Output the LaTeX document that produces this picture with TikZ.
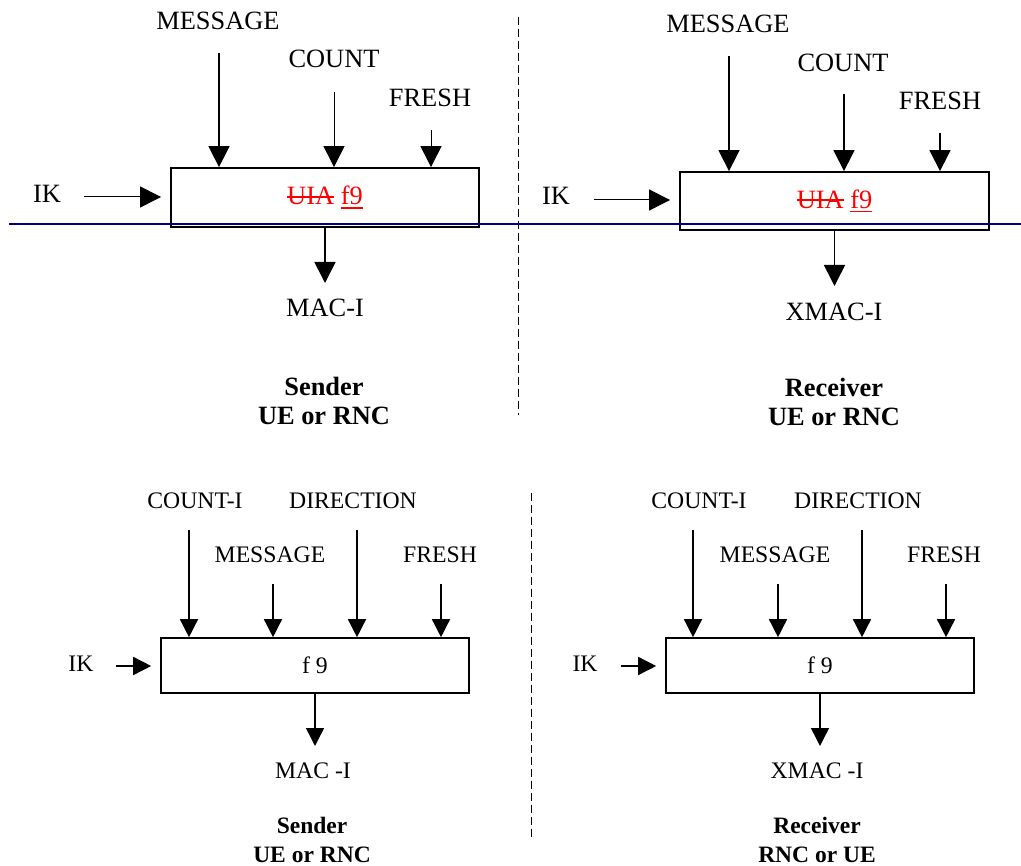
\documentclass[tikz,border=0pt]{standalone}
\usepackage{fontspec}
\setmainfont{Liberation Serif}
\usetikzlibrary{arrows.meta}

% struck and underlined words, drawn with rules
\newcommand{\strk}[1]{\setbox0\hbox{#1}\rlap{\rule[0.27em]{\wd0}{0.06em}}\box0\relax}
\newcommand{\undl}[1]{\setbox0\hbox{#1}\rlap{\rule[-0.16em]{\wd0}{0.06em}}\box0\relax}

\tikzset{
	biglbl/.style={anchor=base, inner sep=0pt, font=\fontsize{26.4}{29}\selectfont},
	smalllbl/.style={anchor=base, inner sep=0pt, font=\fontsize{23.7}{29}\selectfont},
	bigrole/.style={anchor=base, inner sep=0pt, align=center, font=\fontsize{26.4}{29}\selectfont\bfseries},
	smallrole/.style={anchor=base, inner sep=0pt, align=center, font=\fontsize{23.5}{29}\selectfont\bfseries},
	fbox/.style={draw, line width=1.8pt, minimum width=308pt, inner sep=0pt},
	bigarrow/.style={-{Triangle[width=21pt,length=21pt]}, line width=1.6pt},
	thinarrow/.style={-{Triangle[width=21pt,length=21pt]}, line width=1pt},
	smallarrow/.style={-{Triangle[width=18pt,length=18pt]}, line width=1.5pt},
	divider/.style={line width=1pt, dash pattern=on 8pt off 4pt},
}

\begin{document}
\begin{tikzpicture}[x=1pt, y=-1pt]
	\useasboundingbox (0,0) rectangle (1021,866);

	% top left: sender
	\node[biglbl] (msgTL) at (218,30) {MESSAGE};
	\node[biglbl] (cntTL) at (334,68) {COUNT};
	\node[biglbl] (frsTL) at (430,107) {FRESH};
	\node[biglbl] (ikTL) at (47,203) {IK};
	\node[fbox, minimum height=59pt, font=\fontsize{26.4}{29}\selectfont] (fTL) at (325,197.5) {\textcolor{red}{\strk{UIA} \undl{f9}}};
	\node[biglbl] (macTL) at (325,317) {MAC-I};
	\node[bigrole] (roleTL) at (324,425) {Sender\\UE or RNC};

	\coordinate (msgTLs) at (219,53);
	\coordinate (cntTLs) at (334,92);
	\coordinate (frsTLs) at (431,130);
	\coordinate (ikTLs) at (84,197);
	\coordinate (macTLe) at (325,283);
	\draw[bigarrow] (msgTLs) -- (msgTLs |- fTL.north);
	\draw[thinarrow] (cntTLs) -- (cntTLs |- fTL.north);
	\draw[thinarrow] (frsTLs) -- (frsTLs |- fTL.north);
	\draw[thinarrow, shorten >=9pt] (ikTLs) -- (ikTLs -| fTL.west);
	\draw[bigarrow] (fTL.south) -- (macTLe);

	% top right: receiver
	\node[biglbl] (msgTR) at (728,33) {MESSAGE};
	\node[biglbl] (cntTR) at (843,72) {COUNT};
	\node[biglbl] (frsTR) at (940,110) {FRESH};
	\node[biglbl] (ikTR) at (556,205) {IK};
	\node[fbox, minimum width=309pt, minimum height=58pt, font=\fontsize{26.4}{29}\selectfont] (fTR) at (834.5,201) {\textcolor{red}{\strk{UIA} \undl{f9}}};
	\node[biglbl] (macTR) at (834,321) {XMAC-I};
	\node[bigrole] (roleTR) at (834,426) {Receiver\\UE or RNC};

	\coordinate (msgTRs) at (729,56);
	\coordinate (cntTRs) at (844,94);
	\coordinate (frsTRs) at (940,133);
	\coordinate (ikTRs) at (594,200);
	\coordinate (macTRe) at (834.5,286);
	\draw[bigarrow] (msgTRs) -- (msgTRs |- fTR.north);
	\draw[bigarrow] (cntTRs) -- (cntTRs |- fTR.north);
	\draw[bigarrow] (frsTRs) -- (frsTRs |- fTR.north);
	\draw[thinarrow, shorten >=9pt] (ikTRs) -- (ikTRs -| fTR.west);
	\draw[bigarrow] (fTR.south) -- (macTRe);

	% bottom left: sender
	\node[smalllbl] (cntBL) at (195,509) {COUNT-I};
	\node[smalllbl] (dirBL) at (353,509) {DIRECTION};
	\node[smalllbl] (msgBL) at (270,563) {MESSAGE};
	\node[smalllbl] (frsBL) at (440,563) {FRESH};
	\node[smalllbl] (ikBL) at (81,671) {IK};
	\node[fbox, line width=1.6pt, minimum height=55pt, font=\fontsize{23.7}{29}\selectfont] (fBL) at (315,665.5) {f 9};
	\node[smalllbl] (macBL) at (313,778) {MAC -I};
	\node[smallrole] (roleBL) at (312,862) {Sender\\UE or RNC};

	\coordinate (cntBLs) at (189,530);
	\coordinate (msgBLs) at (273,584);
	\coordinate (dirBLs) at (357,530);
	\coordinate (frsBLs) at (441,584);
	\coordinate (ikBLs) at (116,666);
	\coordinate (macBLe) at (315,746);
	\draw[smallarrow] (cntBLs) -- (cntBLs |- fBL.north);
	\draw[smallarrow] (msgBLs) -- (msgBLs |- fBL.north);
	\draw[smallarrow] (dirBLs) -- (dirBLs |- fBL.north);
	\draw[smallarrow] (frsBLs) -- (frsBLs |- fBL.north);
	\draw[smallarrow, shorten >=9pt] (ikBLs) -- (ikBLs -| fBL.west);
	\draw[smallarrow] (fBL.south) -- (macBLe);

	% bottom right: receiver
	\node[smalllbl] (cntBR) at (699,509) {COUNT-I};
	\node[smalllbl] (dirBR) at (858,509) {DIRECTION};
	\node[smalllbl] (msgBR) at (775,563) {MESSAGE};
	\node[smalllbl] (frsBR) at (944,563) {FRESH};
	\node[smalllbl] (ikBR) at (585,671) {IK};
	\node[fbox, line width=1.6pt, minimum height=55pt, font=\fontsize{23.7}{29}\selectfont] (fBR) at (820,665.5) {f 9};
	\node[smalllbl] (macBR) at (817,778) {XMAC -I};
	\node[smallrole] (roleBR) at (817,862) {Receiver\\RNC or UE};

	\coordinate (cntBRs) at (693,530);
	\coordinate (msgBRs) at (778,584);
	\coordinate (dirBRs) at (862,530);
	\coordinate (frsBRs) at (946,584);
	\coordinate (ikBRs) at (621,666);
	\coordinate (macBRe) at (820,746);
	\draw[smallarrow] (cntBRs) -- (cntBRs |- fBR.north);
	\draw[smallarrow] (msgBRs) -- (msgBRs |- fBR.north);
	\draw[smallarrow] (dirBRs) -- (dirBRs |- fBR.north);
	\draw[smallarrow] (frsBRs) -- (frsBRs |- fBR.north);
	\draw[smallarrow, shorten >=9pt] (ikBRs) -- (ikBRs -| fBR.west);
	\draw[smallarrow] (fBR.south) -- (macBRe);

	% dividers
	\coordinate (divTa) at (518,17);
	\coordinate (divTb) at (518,415);
	\coordinate (divBa) at (531,493);
	\coordinate (divBb) at (531,837);
	\draw[divider] (divTa) -- (divTb);
	\draw[divider] (divBa) -- (divBb);
	\coordinate (blueA) at (9,224);
	\coordinate (blueB) at (1021,224);
	\draw[line width=1.5pt, color={rgb,255:red,0;green,0;blue,128}] (blueA) -- (blueB);
\end{tikzpicture}
\end{document}
